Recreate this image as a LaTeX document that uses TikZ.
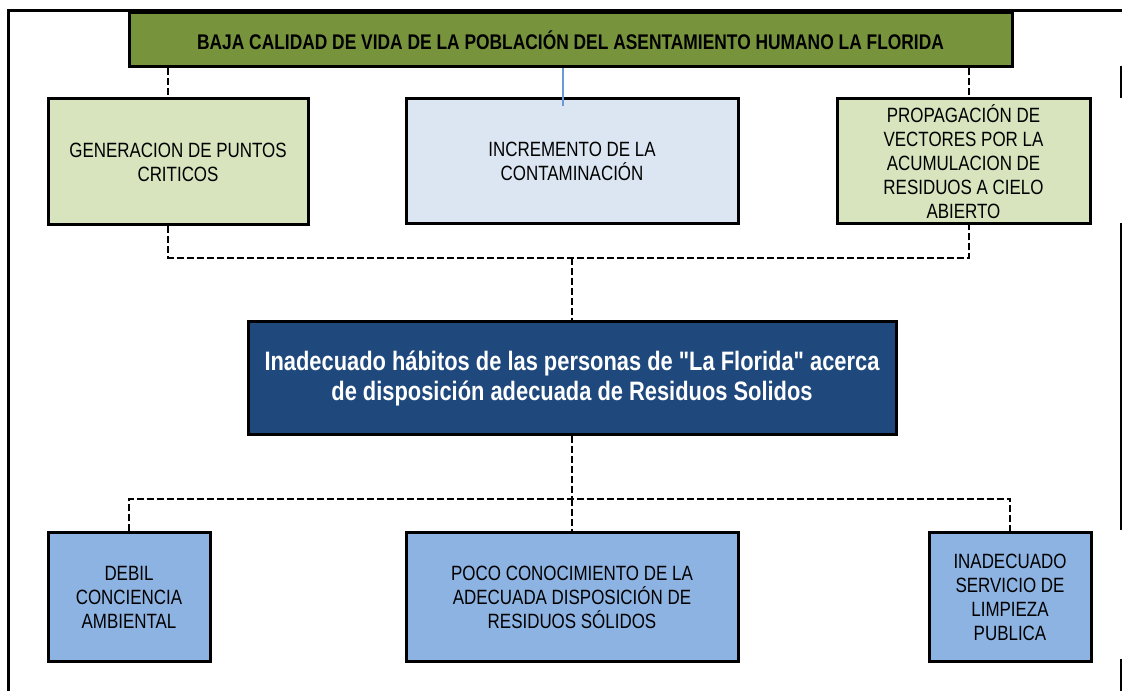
\documentclass[tikz,border=0pt]{standalone}
\usepackage{fontspec}
\setmainfont{Liberation Sans}[FakeStretch=0.82, Ligatures=TeXOff]
\usepackage{xcolor}
\usepackage{tikz}
\usetikzlibrary{positioning}

\definecolor{olivetop}{HTML}{77933C}
\definecolor{palegreen}{HTML}{D7E4BD}
\definecolor{paleblue}{HTML}{DCE6F2}
\definecolor{navycore}{HTML}{1F497D}
\definecolor{causeblue}{HTML}{8DB3E2}
\definecolor{thinblue}{HTML}{6A9AD6}

\begin{document}
\begin{tikzpicture}[x=0.75pt, y=-0.75pt,
  box/.style={draw, line width=2.25pt, inner sep=0pt, align=center,
    font=\fontsize{15.5}{18}\selectfont},
  link/.style={line width=1.9pt, dash pattern=on 5.25pt off 2.25pt}]
  \useasboundingbox (0,0) rectangle (1122,691);
  % Frame
  \draw[line width=2.25pt] (8,691) -- (8,11) -- (1122,11);
  \foreach \ya/\yb in {66/98, 223/530, 659/691}
    \draw[line width=1.5pt] (1121,\ya) -- (1121,\yb);
  % Effect (top)
  \node[box, fill=olivetop, minimum width=662.25pt, minimum height=40.5pt,
    font=\fontsize{15.9}{18}\selectfont\bfseries]
    (effect) at (570.5,40) {BAJA CALIDAD DE VIDA DE LA POBLACIÓN DEL ASENTAMIENTO HUMANO LA FLORIDA};
  % Consequences
  \node[box, fill=palegreen, minimum width=195pt, minimum height=94.5pt]
    (g1) at (178,162) {GENERACION DE PUNTOS\\CRITICOS};
  \node[box, fill=paleblue, minimum width=249pt, minimum height=93.75pt]
    (g2) at (572,161.5) {INCREMENTO DE LA\\CONTAMINACIÓN};
  \node[box, fill=palegreen, minimum width=189.75pt, minimum height=93.75pt]
    (g3) at (963.5,161.5) {PROPAGACIÓN DE\\VECTORES POR LA\\ACUMULACION DE\\RESIDUOS A CIELO\\ABIERTO};
  % Central problem
  \node[box, fill=navycore, text=white, minimum width=486pt, minimum height=84.75pt,
    font=\fontsize{20}{22.5}\selectfont\bfseries]
    (core) at (572,378.5) {Inadecuado hábitos de las personas de "La Florida" acerca\\de disposición adecuada de Residuos Solidos};
  % Causes
  \node[box, fill=causeblue, minimum width=121.5pt, minimum height=96pt]
    (c1) at (129,597) {DEBIL\\CONCIENCIA\\AMBIENTAL};
  \node[box, fill=causeblue, minimum width=249pt, minimum height=96pt]
    (c2) at (572,597) {POCO CONOCIMIENTO DE LA\\ADECUADA DISPOSICIÓN DE\\RESIDUOS SÓLIDOS};
  \node[box, fill=causeblue, minimum width=121.5pt, minimum height=96pt]
    (c3) at (1010,597) {INADECUADO\\SERVICIO DE\\LIMPIEZA\\PUBLICA};
  % Upper links
  \coordinate (upL) at (168,258);
  \coordinate (upR) at (969,258);
  \coordinate (bluetip) at (563,106);
  \draw[link] (effect.south -| upL) -- (g1.north -| upL);
  \draw[link] (effect.south -| upR) -- (g3.north -| upR);
  \draw[thinblue, line width=1.5pt] (effect.south -| bluetip) -- (bluetip);
  \draw[link] (g1.south -| upL) -- (upL) -- (upR) -- (g3.south -| upR);
  \draw[link] (core.north |- upL) -- (core.north);
  % Lower links
  \coordinate (lowbar) at (572,499);
  \draw[link] (core.south) -- (lowbar);
  \draw[link] (c1.north) -- (c1.north |- lowbar) -- (c3.north |- lowbar) -- (c3.north);
  \draw[link] (lowbar) -- (c2.north);
\end{tikzpicture}
\end{document}
